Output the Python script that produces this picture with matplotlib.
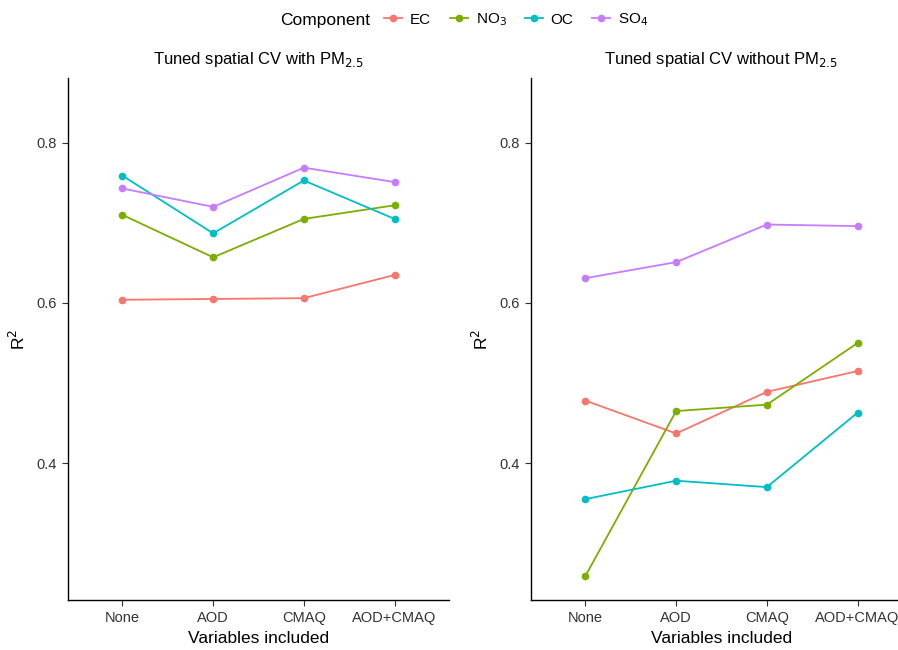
import matplotlib
matplotlib.use("Agg")
import matplotlib.pyplot as plt
from matplotlib.lines import Line2D

plt.rcParams['font.family'] = ['Liberation Sans', 'DejaVu Sans']

categories = ["None", "AOD", "CMAQ", "AOD+CMAQ"]
components = ["EC", "NO$_3$", "OC", "SO$_4$"]
colors = ["#F8766D", "#7CAE00", "#00BFC4", "#C77CFF"]

with_pm = {
    "EC":  [0.604, 0.605, 0.606, 0.635],
    "NO3": [0.710, 0.657, 0.705, 0.722],
    "OC":  [0.759, 0.687, 0.753, 0.705],
    "SO4": [0.743, 0.720, 0.769, 0.751],
}
without_pm = {
    "EC":  [0.478, 0.437, 0.489, 0.515],
    "NO3": [0.259, 0.465, 0.473, 0.550],
    "OC":  [0.355, 0.378, 0.370, 0.463],
    "SO4": [0.631, 0.651, 0.698, 0.696],
}
keys = ["EC", "NO3", "OC", "SO4"]
titles = ["Tuned spatial CV with PM$_{2.5}$", "Tuned spatial CV without PM$_{2.5}$"]
yticks = [0.4, 0.6, 0.8]

W, H = 898, 650
fig = plt.figure(figsize=(W / 100, H / 100), dpi=100)

def box(x0, y0, x1, y1):
    return [x0 / W, 1 - y1 / H, (x1 - x0) / W, (y1 - y0) / H]

axes = [fig.add_axes(box(68, 78, 449, 600)), fig.add_axes(box(531, 78, 912, 600))]
x = list(range(len(categories)))

for ax, data, title in zip(axes, [with_pm, without_pm], titles):
    for k, c in zip(keys, colors):
        ax.plot(x, data[k], color=c, lw=1.3, marker='o', ms=4.5, clip_on=False)
    ax.set_xlim(-0.6, 3.6)
    ax.set_ylim(0.229, 0.881)
    ax.set_yticks(yticks)
    ax.set_yticklabels([f"{t:.1f}" for t in yticks])
    ax.set_xticks(x)
    ax.set_xticklabels(categories)
    for s in ["top", "right"]:
        ax.spines[s].set_visible(False)
    for s in ["left", "bottom"]:
        ax.spines[s].set_color("black")
        ax.spines[s].set_linewidth(1.0)
    ax.tick_params(axis='both', direction='out', length=4, width=0.8, color='#333333',
                   labelsize=10.5, labelcolor='#333333', pad=4)
    ax.set_xlabel("Variables included", fontsize=12.5, labelpad=4)
    ax.set_ylabel("R$^2$", fontsize=12.5, labelpad=6)
    ax.set_title(title, fontsize=12, pad=10)

fig.text(280 / W, 1 - 20 / H, "Component", fontsize=12.5, va='center', ha='left')
handles = [Line2D([0], [0], color=c, lw=1.3, marker='o', ms=4.5) for c in colors]
fig.legend(handles, components, loc='center left', bbox_to_anchor=(378 / W, 1 - 20 / H),
           ncol=4, frameon=False, fontsize=11, handlelength=1.2, handletextpad=0.5,
           columnspacing=1.2, borderaxespad=0)

fig.savefig("out.png", dpi=100)
